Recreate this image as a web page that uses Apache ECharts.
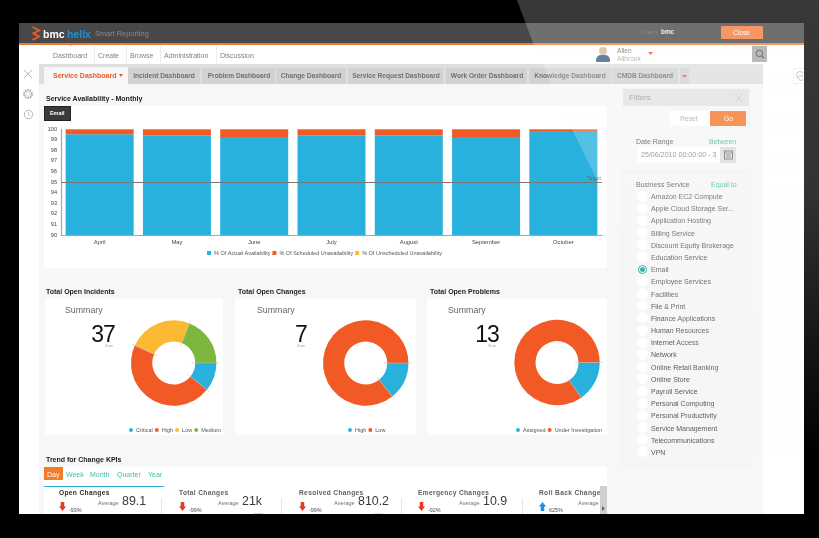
<!DOCTYPE html>
<html>
<head>
<meta charset="utf-8">
<title>Smart Reporting</title>
<script src="https://cdn.jsdelivr.net/npm/echarts@6/dist/echarts.min.js"></script>
<style>
html, body { margin: 0; padding: 0; background: #000; overflow: hidden; }
#page { position: relative; width: 819px; height: 538px; overflow: hidden; background: #000;
  font-family: "Liberation Sans", Arial, sans-serif; filter: blur(0.35px); }
#page div, #page svg { position: absolute; }
.box { box-sizing: border-box; }
.t { white-space: nowrap; line-height: 1; transform: translateY(-50%); will-change: transform; }
.nav { font-size: 7px; color: #808080; }
.tab { font-size: 6.6px; font-weight: bold; color: #707070; }
.title { font-size: 7px; font-weight: bold; color: #222; }
.filter { font-size: 7px; color: #5c5c5c; }
.teal { font-size: 7px; color: #45bba9; }
.kpi { font-size: 6.6px; font-weight: bold; color: #606060; letter-spacing: 0.35px; }
.avg { font-size: 5.6px; color: #707070; }
.num { font-size: 12.4px; color: #3a3a3a; }
.pct { font-size: 5.4px; color: #4c4c4c; }
.summary { font-size: 8.8px; color: #666; }
.big { font-size: 23px; color: #111; letter-spacing: -0.9px; }
.sum { font-size: 4px; color: #aaa; }
</style>
</head>
<body>
<div id="page"></div>
<script>
// chart values
var months = ['April', 'May', 'June', 'July', 'August', 'September', 'October'];
var actualAvailability = [99.5, 99.4, 99.25, 99.4, 99.4, 99.25, 99.82];
var scheduledUnavailability = [0.48, 0.58, 0.73, 0.58, 0.58, 0.73, 0.16];
var unscheduledUnavailability = [0.02, 0.02, 0.02, 0.02, 0.02, 0.02, 0.02];
var targetValue = 95;

var incidentNames = ['Critical', 'High', 'Low', 'Medium'];
var incidentValues = [4, 17, 9, 7];
var changeNames = ['High', 'Low'];
var changeValues = [1, 6];
var problemNames = ['Assigned', 'Under Investigation'];
var problemValues = [2, 11];

// page text
var navItems = [['Dashboard', 53], ['Create', 98], ['Browse', 130], ['Administration', 164], ['Discussion', 220]];
var tabItems = [['Incident Dashboard', 128, 200], ['Problem Dashboard', 202, 275], ['Change Dashboard', 276, 346],
  ['Service Request Dashboard', 348, 443], ['Work Order Dashboard', 446, 527], ['Knowledge Dashboard', 529, 611], ['CMDB Dashboard', 612, 678]];
var periodItems = [['Week', 66], ['Month', 90], ['Quarter', 117], ['Year', 148]];
var kpiItems = [
  ['Open Changes', 59, '-93%', 'down', '89.1', 122],
  ['Total Changes', 179, '-99%', 'down', '21k', 242],
  ['Resolved Changes', 299, '-99%', 'down', '810.2', 358],
  ['Emergency Changes', 418, '-92%', 'down', '10.9', 483],
  ['Roll Back Change', 539, '625%', 'up', '', 0]
];
var kpiSeparators = [161, 281, 401, 522];
var services = ['Amazon EC2 Compute', 'Apple Cloud Storage Ser...', 'Application Hosting', 'Billing Service',
  'Discount Equity Brokerage', 'Education Service', 'Email', 'Employee Services', 'Facilities', 'File & Print',
  'Finance Applications', 'Human Resources', 'Internet Access', 'Network', 'Online Retail Banking', 'Online Store',
  'Payroll Service', 'Personal Computing', 'Personal Productivity', 'Service Management', 'Telecommunications', 'VPN'];

var BLUE = '#29b1dd', ORANGE = '#f15a24', YELLOW = '#fbb934', GREEN = '#7cb83e';
var page = document.getElementById('page');

function box(x, y, w, h, bg, extra) {
    var el = document.createElement('div');
    el.className = 'box';
    el.style.cssText = 'left:' + x + 'px;top:' + y + 'px;width:' + w + 'px;height:' + h + 'px;background:' + bg + ';' + (extra || '');
    page.appendChild(el);
    return el;
}

// text is placed by its vertical middle
function text(x, y, str, cls, extra) {
    var el = document.createElement('div');
    el.className = 't ' + cls;
    el.textContent = str;
    el.style.cssText = 'left:' + x + 'px;top:' + y + 'px;' + (extra || '');
    page.appendChild(el);
    return el;
}

function icon(x, y, w, h, inner) {
    var holder = document.createElement('div');
    holder.style.cssText = 'left:' + x + 'px;top:' + y + 'px;width:' + w + 'px;height:' + h + 'px;';
    holder.innerHTML = '<svg width="' + w + '" height="' + h + '" viewBox="0 0 ' + w + ' ' + h + '">' + inner + '</svg>';
    page.appendChild(holder);
}

// screen, header, nav
box(19, 23, 785, 491, '#f7f7f7');
box(19, 23, 785, 20, '#484848');
box(19, 43, 785, 2, '#ef7a35');
box(19, 45, 785, 19, '#ffffff');
box(19, 64, 20, 450, '#ffffff');
box(763, 64, 41, 450, '#ffffff');
box(39, 64, 724, 20, '#dedede');

icon(31, 26, 11, 15, '<path d="M1.5 1 L8 4.5 L1.5 8 M1.5 7 L8 10.5 L1.5 14" fill="none" stroke="#ee5a24" stroke-width="1.9"/>');
text(43, 33.5, 'bmc', '', 'font-size:10.5px;font-weight:bold;color:#fff;');
text(67, 33.5, 'helix', '', 'font-size:10.5px;font-weight:bold;color:#1f8fd6;');
text(95, 34, 'Smart Reporting', '', 'font-size:7.4px;color:#8a8a8a;');
text(642, 32, 'Client:', '', 'font-size:6px;color:#6c6c6c;');
text(661, 32, 'bmc', '', 'font-size:6.4px;font-weight:bold;color:#e8e8e8;');
box(721, 26, 42, 13, '#f47b3a', 'border-radius:1px;');
text(733, 32.5, 'Close', '', 'font-size:6.6px;color:#fff;');

box(68, 43, 5, 3, '#ef7a35', 'clip-path:polygon(0 0,100% 0,50% 100%);');
navItems.forEach(function (item, i) {
    text(item[1], 54.5, item[0], 'nav');
    if (i > 0) box(item[1] - 4, 46, 1, 18, '#ececec');
});

// user and search
box(599, 47, 8, 8, '#d8b8a0', 'border-radius:50%;');
box(596, 55, 14, 7, '#3d5f8a', 'border-radius:5px 5px 1px 1px;');
text(617, 50.5, 'Allen', 'nav', 'color:#777;font-size:6.6px;');
text(617, 59, 'Allbrook', 'nav', 'color:#aaa;font-size:6.6px;');
box(648, 52, 5, 3, '#e8532b', 'clip-path:polygon(0 0,100% 0,50% 100%);');
box(752, 46, 15, 16, '#a8a8a8');
icon(755, 49, 10, 10, '<circle cx="4.4" cy="4.4" r="3.2" fill="none" stroke="#444" stroke-width="1"/><path d="M6.8 6.8 L9 9" stroke="#444" stroke-width="1.1"/>');

// dashboard tabs
box(44, 67, 84, 17, '#f7f7f7');
text(53, 75, 'Service Dashboard', 'tab', 'color:#ec5a28;font-size:7px;');
box(119, 74, 4, 3, '#ec5a28', 'clip-path:polygon(0 0,100% 0,50% 100%);');
tabItems.forEach(function (item) {
    box(item[1], 68, item[2] - item[1], 16, '#d2d2d2');
    text((item[1] + item[2]) / 2, 76, item[0], 'tab', 'transform:translate(-50%,-50%);');
});
box(680, 68, 9, 16, '#d2d2d2');
box(682, 75, 5, 3, '#ec5a28', 'clip-path:polygon(0 0,100% 0,50% 100%);');
box(793, 68, 11, 16, '#fff', 'border:1px solid #eee;border-right:0;');
icon(794, 70, 9, 12, '<circle cx="6" cy="5" r="3.5" fill="none" stroke="#bbb"/><circle cx="7" cy="8" r="2.5" fill="#fff" stroke="#bbb"/>');

// left side icons
icon(23, 69, 10, 10, '<path d="M1 1 L9 9 M9 1 L1 9" stroke="#aaa" stroke-width="0.8"/>');
icon(22, 88, 12, 12, '<circle cx="6" cy="6" r="4" fill="none" stroke="#aaa" stroke-width="1.8" stroke-dasharray="1.6 0.9"/><circle cx="6" cy="6" r="2.4" fill="#fff" stroke="#bbb" stroke-width="0.6"/>');
icon(23, 109, 11, 11, '<circle cx="5.5" cy="5.5" r="4.2" fill="none" stroke="#aaa" stroke-width="0.8"/><path d="M5.5 3 V5.8 L7.4 7" fill="none" stroke="#aaa" stroke-width="0.7"/>');

// availability chart panel
text(46, 97.5, 'Service Availability - Monthly', 'title');
box(44, 106, 563, 162, '#ffffff');
var availabilityEl = box(44, 106, 563, 162, 'transparent');
box(44, 106, 27, 15, '#3a3a3a', 'border:1px solid #222;');
text(50, 113.5, 'Email', '', 'font-size:5.4px;font-weight:bold;color:#fff;');

// donut panels
var donutPanels = [
    { x: 45, w: 178, title: 'Total Open Incidents', titleX: 46, sumTextX: 65, total: '37', numRight: 115, sumX: 109, names: incidentNames, values: incidentValues,
        colors: [BLUE, ORANGE, YELLOW, GREEN], cx: 128.7, cy: 64, legendLeft: 84 },
    { x: 235, w: 181, title: 'Total Open Changes', titleX: 238, sumTextX: 256.7, total: '7', numRight: 307, sumX: 301, names: changeNames, values: changeValues,
        colors: [BLUE, ORANGE], cx: 130.7, cy: 64, legendLeft: 113 },
    { x: 427, w: 180, title: 'Total Open Problems', titleX: 430, sumTextX: 448, total: '13', numRight: 499, sumX: 492, names: problemNames, values: problemValues,
        colors: [BLUE, ORANGE], cx: 130, cy: 63.5, legendLeft: 89 }
];
donutPanels.forEach(function (p) {
    text(p.titleX, 291, p.title, 'title');
    box(p.x, 299, p.w, 136, '#ffffff');
    p.el = box(p.x, 299, p.w, 136, 'transparent');
    text(p.sumTextX, 310, 'Summary', 'summary');
    text(p.numRight, 334, p.total, 'big', 'transform:translate(-100%,-50%);');
    text(p.sumX, 346, 'Sum', 'sum', 'transform:translate(-50%,-50%);');
});

// KPI strip
text(46, 459, 'Trend for Change KPIs', 'title');
box(44, 467, 563, 47, '#ffffff');
box(44, 467, 19, 13, '#f47b2a');
text(47, 473.5, 'Day', '', 'font-size:7px;color:#fff;');
periodItems.forEach(function (item) {
    text(item[1], 473.5, item[0], 'teal');
});
box(44, 486, 120, 1.4, '#29a9d2');
kpiItems.forEach(function (k, i) {
    text(k[1], 492.5, k[0], 'kpi', i === 0 ? 'color:#2c2c2c;' : '');
    var arrow = box(k[1] + 0, 502, 7, 9, k[3] === 'down' ? '#ea3a20' : '#1e90e8');
    arrow.style.clipPath = k[3] === 'down'
        ? 'polygon(25% 0,75% 0,75% 50%,100% 50%,50% 100%,0 50%,25% 50%)'
        : 'polygon(50% 0,100% 50%,75% 50%,75% 100%,25% 100%,25% 50%,0 50%)';
    text(k[1] + 10, 510.5, k[2], 'pct');
    text(k[5] ? k[5] - 24 : 578, 503.5, 'Average', 'avg');
    if (k[4]) text(k[5], 501, k[4], 'num');
});
kpiSeparators.forEach(function (x) {
    box(x, 498, 1, 16, '#e6e6e6');
});
// only the very top of each gauge shows above the screen edge
box(253, 512.5, 10, 1.5, '#f9cdbc', 'border-radius:5px 5px 0 0;');
box(373, 512.5, 10, 1.5, '#fadfb0', 'border-radius:5px 5px 0 0;');
box(600, 486, 7, 28, '#cfcfcf');
box(602, 506, 3, 5, '#666', 'clip-path:polygon(0 0,100% 50%,0 100%);');

// filters panel
box(623, 89, 126, 377, '#f6f6f6', 'box-shadow:0 0 2px #e8e8e8;');
box(623, 89, 126, 17, '#e2e2e2');
text(629, 98, 'Filters', '', 'font-size:8px;color:#999;');
icon(734, 93, 10, 10, '<path d="M1 1 L9 9 M9 1 L1 9" stroke="#c4c4c4" stroke-width="0.8"/>');
box(670, 111, 40, 15, '#ffffff');
text(680, 119, 'Reset', '', 'font-size:6.8px;color:#aaa;');
box(710, 111, 36, 15, '#f47b2a');
text(724, 119, 'Go', '', 'font-size:6.8px;color:#fff;');
text(636, 141, 'Date Range', 'filter');
text(709, 141, 'Between', 'teal');
box(638, 147, 82, 16, '#ffffff');
text(641, 155.5, '25/06/2010 00:00:00 - 3', 'filter', 'color:#888;font-size:7.1px;');
box(720, 147, 16, 16, '#dcdcdc');
icon(724, 150, 9, 10, '<rect x="0.5" y="1" width="8" height="8" fill="none" stroke="#555" stroke-width="0.8"/><path d="M0.5 3 H8.5 M2 5 H7 M2 7 H7" stroke="#555" stroke-width="0.6"/>');
box(623, 172, 126, 1, '#ebebeb');
text(636, 184, 'Business Service', 'filter');
text(711, 184, 'Equal to', 'teal');
services.forEach(function (name, i) {
    var y = 196 + i * 12.19;
    box(636.5, y - 5.5, 11, 11, '#ffffff', 'border-radius:50%;');
    if (name === 'Email') {
        box(637.5, y - 4.5, 9, 9, '#ffffff', 'border-radius:50%;border:1px solid #1fa598;');
        box(639.5, y - 2.5, 5, 5, '#1fa598', 'border-radius:50%;');
    }
    text(650.5, y, name, 'filter');
});

// stacked bars with the target line
var availabilityChart = echarts.init(availabilityEl);
availabilityChart.setOption({
    animation: false,
    textStyle: { fontFamily: '"Liberation Sans", Arial, sans-serif' },
    grid: { left: 17, right: 5, top: 23, bottom: 33 },
    legend: {
        left: 163, top: 144, padding: 0, itemWidth: 4, itemHeight: 4, itemGap: 2, icon: 'rect',
        textStyle: { fontSize: 5.5, color: '#555', padding: [0, 0, 0, -2] },
        data: ['% Of Actual Availability', '% Of Scheduled Unavailability', '% Of Unscheduled Unavailability']
    },
    xAxis: {
        type: 'category', data: months,
        axisLine: { lineStyle: { color: '#a6a6a6', width: 1.2 } },
        axisTick: { show: false },
        axisLabel: { fontSize: 5.8, color: '#444', margin: 4 }
    },
    yAxis: {
        type: 'value', min: 90, max: 100, interval: 1,
        axisLine: { show: true, lineStyle: { color: '#a6a6a6', width: 1.2 } },
        axisTick: { show: false },
        splitLine: { show: false },
        axisLabel: { fontSize: 5.6, color: '#444', margin: 4 }
    },
    series: [
        {
            name: '% Of Actual Availability', type: 'bar', stack: 'a', barWidth: 68, data: actualAvailability,
            itemStyle: { color: BLUE },
            markLine: {
                silent: true, symbol: 'none', animation: false,
                lineStyle: { color: '#777', width: 1.2, type: 'solid' },
                label: { position: 'insideEndTop', formatter: 'Target', fontSize: 5, color: '#666', distance: 1 },
                data: [{ yAxis: targetValue }]
            }
        },
        { name: '% Of Scheduled Unavailability', type: 'bar', stack: 'a', data: scheduledUnavailability, itemStyle: { color: ORANGE } },
        { name: '% Of Unscheduled Unavailability', type: 'bar', stack: 'a', data: unscheduledUnavailability, itemStyle: { color: YELLOW } }
    ]
});

// the pale ticks at the slice boundaries come from the same values as the slices
function boundaryTicks(values, cx, cy) {
    var total = values.reduce(function (a, b) { return a + b; }, 0);
    return {
        type: 'custom', coordinateSystem: 'none', silent: true, z: 5, data: values,
        renderItem: function (params) {
            var sum = 0;
            for (var i = 0; i <= params.dataIndex; i++) sum += values[i];
            var angle = sum / total * Math.PI * 2;
            return {
                type: 'line',
                shape: {
                    x1: cx + 18 * Math.cos(angle), y1: cy + 18 * Math.sin(angle),
                    x2: cx + 46 * Math.cos(angle), y2: cy + 46 * Math.sin(angle)
                },
                style: { stroke: 'rgba(190,190,190,0.75)', lineWidth: 0.7 }
            };
        }
    };
}

donutPanels.forEach(function (p) {
    var chart = echarts.init(p.el);
    chart.setOption({
        animation: false,
        textStyle: { fontFamily: '"Liberation Sans", Arial, sans-serif' },
        color: p.colors,
        legend: {
            left: p.legendLeft, bottom: 2, padding: 0, width: 170, icon: 'circle', itemWidth: 4, itemHeight: 4, itemGap: 2,
            textStyle: { fontSize: 5.5, color: '#555', padding: [0, 0, 0, -2] },
            data: p.names
        },
        series: [
            {
                type: 'pie', radius: [21.5, 42.7], center: [p.cx, p.cy], startAngle: 0, clockwise: true,
                label: { show: false }, labelLine: { show: false }, silent: true,
                data: p.names.map(function (n, i) { return { name: n, value: p.values[i] }; })
            },
            boundaryTicks(p.values, p.cx, p.cy)
        ]
    });
});

// reflection across the tablet glass
box(0, 0, 819, 538, 'linear-gradient(to bottom, rgba(255,255,255,0.22) 0%, rgba(255,255,255,0.2) 35%, rgba(255,255,255,0.1) 60%, rgba(255,255,255,0) 85%)',
    'pointer-events:none;clip-path:polygon(517px 0,819px 0,819px 538px,768px 538px,700px 396px,597px 180px,573px 131px,533px 43px);');
</script>
</body>
</html>
